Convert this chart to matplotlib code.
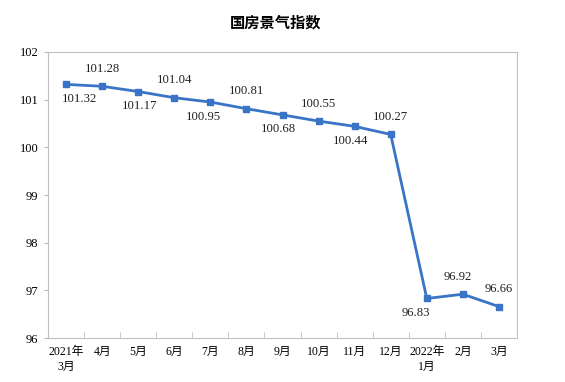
import matplotlib
matplotlib.use('Agg')
import matplotlib.pyplot as plt

months = ['2021年\n3月', '4月', '5月', '6月', '7月', '8月', '9月', '10月', '11月', '12月',
          '2022年\n1月', '2月', '3月']
values = [101.32, 101.28, 101.17, 101.04, 100.95, 100.81, 100.68, 100.55, 100.44, 100.27,
          96.83, 96.92, 96.66]
# label above (+1) or below (-1) the point
label_side = [-1, 1, -1, 1, -1, 1, -1, 1, -1, 1, -1, 1, 1]
# small horizontal nudges of the labels (points)
label_dx = [10, 0, 1, 0, -5, 0, -3, 0, -3, 0, -8, -4, 0]

plt.rcParams['font.family'] = ['Liberation Serif', 'Noto Sans CJK SC']

fig = plt.figure(figsize=(5.65, 3.82), dpi=100)
ax = fig.add_axes([0.085, 0.115, 0.83, 0.749])

x = list(range(len(values)))
ax.plot(x, values, '-s', color='#3a74c6', lw=2, markersize=4)

for xi, v, s, dx in zip(x, values, label_side, label_dx):
    off = 12.5 if s > 0 else -10.5
    ax.annotate(f'{v:.2f}', (xi, v), xytext=(dx, off), textcoords='offset points',
                ha='center', va='center', fontsize=9.2, color='#222222')

ax.set_xlim(-0.5, len(values) - 0.5)
ax.set_ylim(96, 102)
ax.set_yticks(range(96, 103))
ax.set_xticks(x)
ax.set_xticklabels(months, fontsize=8.5, linespacing=1.25)
ax.set_xticks([i + 0.5 for i in range(len(values) - 1)], minor=True)
ax.tick_params(axis='x', which='major', length=0, pad=6)
ax.tick_params(axis='x', which='minor', direction='in', length=4, color='#bbbbbb')
ax.tick_params(axis='y', length=3, color='#bbbbbb', labelsize=9, pad=4)

for sp in ax.spines.values():
    sp.set_color('#c0c0c0')
    sp.set_linewidth(0.8)

fig.text(0.487, 0.942, '国房景气指数', ha='center', va='center', fontsize=11,
         fontweight='bold', family=['Noto Sans CJK SC'])

fig.savefig('out.png', dpi=100)
